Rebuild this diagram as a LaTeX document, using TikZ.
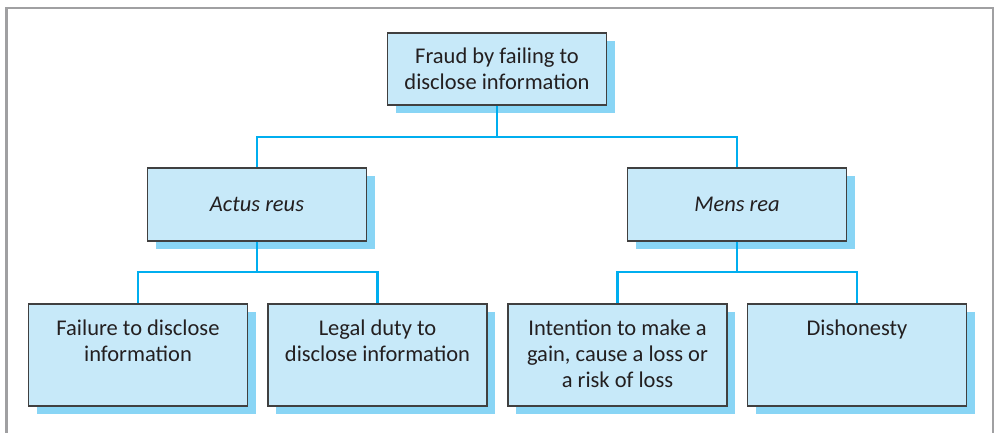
\documentclass[tikz,border=0pt]{standalone}
\usepackage{fontspec}
\setmainfont{Carlito}
\usepackage{xcolor}
\usepackage{tikz}
\usetikzlibrary{shadows}
\definecolor{boxfill}{RGB}{199,233,249}
\definecolor{boxshade}{RGB}{137,213,245}
\definecolor{linkcyan}{RGB}{0,174,239}
\definecolor{framegrey}{RGB}{160,160,162}
\definecolor{inkdark}{RGB}{35,31,32}
\newcommand{\leaftext}[1]{\parbox[c][102pt][t]{205pt}{\centering\rule{0pt}{31pt}#1}}

\begin{document}
\begin{tikzpicture}[
  x=1pt, y=-1pt,
  box/.style={draw=black!75, line width=1.3pt, fill=boxfill, inner sep=0,
              minimum width=219pt, align=center, text=inkdark,
              font=\fontsize{22.5}{26}\selectfont,
              general shadow={fill=boxshade, shadow xshift=8pt, shadow yshift=-8pt}},
  headbox/.style={box, minimum height=72pt},
  midbox/.style={box, minimum height=73pt, font=\fontsize{22.5}{26}\selectfont\itshape},
  leafbox/.style={box, minimum height=102pt},
  link/.style={draw=linkcyan, line width=2.6pt},
  frame/.style={draw=framegrey, line width=2.6pt},
]
\useasboundingbox (0,0) rectangle (995,433);
\draw[frame] (6.5,433) |- (993,8) -- (993,433);
% ---- nodes
\node[headbox] (fraud) at (497,69) {Fraud by failing to\\disclose information};
\node[midbox] (actus) at (257,204.5) {Actus reus};
\node[midbox] (mens)  at (737,204.5) {Mens rea};
\node[leafbox] (failure) at (138,355)   {\leaftext{Failure to disclose\\information}};
\node[leafbox] (duty)    at (377.5,355) {\leaftext{Legal duty to\\disclose information}};
\node[leafbox] (intent)  at (617.5,355) {\leaftext{Intention to make a\\gain, cause a loss or\\a risk of loss}};
\node[leafbox] (dishon)  at (857,355)   {\leaftext{Dishonesty}};
% ---- connectors
\coordinate (j0) at (497,137);
\coordinate (j1) at (257,272);
\coordinate (j2) at (737,272);
\draw[link] (fraud.south) -- (j0);
\draw[link] (actus.north) |- (j0) -| (mens.north);
\draw[link] (actus.south) -- (j1);
\draw[link] (failure.north) |- (j1) -| (duty.north);
\draw[link] (mens.south) -- (j2);
\draw[link] (intent.north) |- (j2) -| (dishon.north);
\end{tikzpicture}
\end{document}
